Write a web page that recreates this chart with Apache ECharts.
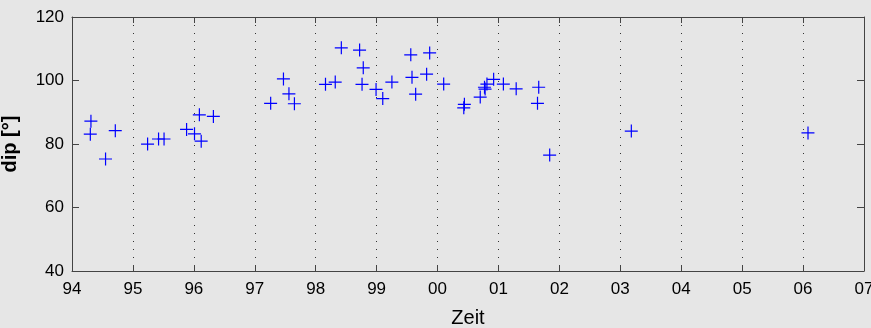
<!DOCTYPE html>
<html>
<head>
<meta charset="utf-8">
<script src="https://cdn.jsdelivr.net/npm/echarts@6/dist/echarts.min.js"></script>
<style>
html,body{margin:0;padding:0;background:#e6e6e6;}
#c{width:871px;height:328px;}
</style>
</head>
<body>
<div id="c"></div>
<script>
// Decimal year of each measurement
var years = [
  1994.30, 1994.31, 1994.55, 1994.71,
  1995.24, 1995.42, 1995.51, 1995.88,
  1996.01, 1996.09, 1996.12, 1996.32,
  1997.26, 1997.47, 1997.56, 1997.65,
  1998.16, 1998.32, 1998.42, 1998.72, 1998.78, 1998.76,
  1998.99, 1999.10, 1999.25, 1999.56, 1999.58, 1999.64, 1999.82, 1999.87,
  2000.10, 2000.43, 2000.44, 2000.70, 2000.77, 2000.78, 2000.81, 2000.92,
  2001.08, 2001.29, 2001.66, 2001.64, 2001.84,
  2003.18, 2006.08
];
// dip angle in degrees
var dips = [
  83.1, 87.2, 75.3, 84.2,
  80.0, 81.6, 81.6, 84.6,
  83.2, 89.2, 80.9, 88.7,
  92.8, 100.5, 95.8, 92.7,
  98.8, 99.5, 110.3, 109.6, 104.0, 98.8,
  97.2, 94.3, 99.5, 108.1, 101.0, 95.7, 102.0, 108.7,
  98.9, 91.4, 92.5, 94.8, 97.9, 97.3, 98.9, 100.4,
  98.9, 97.4, 97.9, 92.8, 76.5,
  84.1, 83.5
];
var yTicks = [40, 60, 80, 100, 120];
var xLabel = 'Zeit';
var yLabel = 'dip [°]';

var pts = years.map(function (x, i) { return [x, dips[i]]; });
var FONT = "'Liberation Sans Narrow', 'Liberation Sans', Arial, sans-serif";
var axisCol = '#444';

var chart = echarts.init(document.getElementById('c'), null, {renderer: 'canvas'});
chart.setOption({
  backgroundColor: '#e6e6e6',
  animation: false,
  grid: {left: 72, right: 7, top: 17, bottom: 57, show: false, containLabel: false, outerBoundsMode: 'none'},
  xAxis: [{
    type: 'value', min: 1994, max: 2007, interval: 1,
    name: xLabel, nameLocation: 'middle', nameGap: 37,
    nameTextStyle: {fontFamily: FONT, fontSize: 20, color: '#000'},
    axisLine: {show: true, onZero: false, lineStyle: {color: axisCol, width: 1}},
    axisTick: {show: true, inside: true, length: 6, lineStyle: {color: axisCol}},
    axisLabel: {
      fontFamily: FONT, fontSize: 17, color: '#000', margin: 10,
      formatter: function (v) { var n = Math.round(v) % 100; return (n < 10 ? '0' : '') + n; }
    },
    splitLine: {show: true, lineStyle: {color: '#333', width: 1, type: [1, 7]}}
  }, {
    type: 'value', min: 1994, max: 2007, interval: 1, position: 'top',
    axisLine: {show: true, onZero: false, lineStyle: {color: axisCol, width: 1}},
    axisTick: {show: true, inside: true, length: 6, lineStyle: {color: axisCol}},
    axisLabel: {show: false}, splitLine: {show: false}
  }],
  yAxis: [{
    type: 'value', min: yTicks[0], max: yTicks[yTicks.length - 1], interval: 20,
    name: yLabel, nameLocation: 'middle', nameGap: 52,
    nameTextStyle: {fontFamily: FONT, fontSize: 20, fontWeight: 'bold', color: '#000'},
    axisLine: {show: true, onZero: false, lineStyle: {color: axisCol, width: 1}},
    axisTick: {show: true, inside: true, length: 7, lineStyle: {color: axisCol}},
    axisLabel: {fontFamily: FONT, fontSize: 17, color: '#000', margin: 8},
    splitLine: {show: false}
  }, {
    type: 'value', min: yTicks[0], max: yTicks[yTicks.length - 1], interval: 20, position: 'right',
    axisLine: {show: true, onZero: false, lineStyle: {color: axisCol, width: 1}},
    axisTick: {show: true, inside: true, length: 7, lineStyle: {color: axisCol}},
    axisLabel: {show: false}, splitLine: {show: false}
  }],
  series: [{
    type: 'scatter',
    xAxisIndex: 0, yAxisIndex: 0,
    data: pts,
    symbol: 'path://M0,5.5L12,5.5L12,6.6L0,6.6Z M5.5,0L6.6,0L6.6,12L5.5,12Z',
    symbolSize: 13,
    itemStyle: {color: '#0000ff', opacity: 1}
  }]
});
</script>
</body>
</html>
